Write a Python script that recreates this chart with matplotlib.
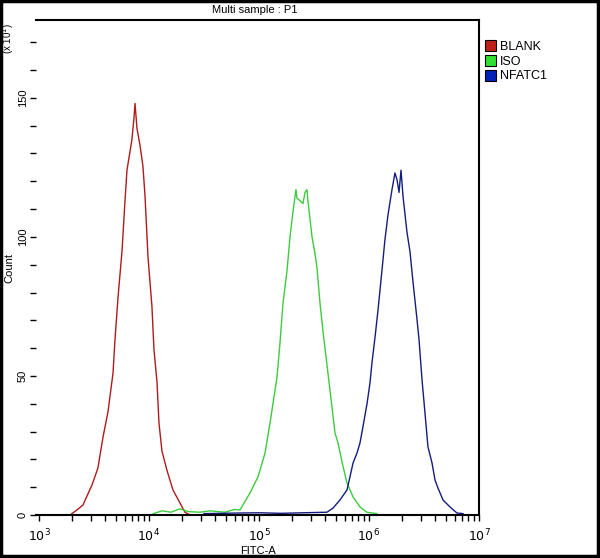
import matplotlib
matplotlib.use("Agg")
import matplotlib.pyplot as plt
from matplotlib.patches import Patch, Rectangle
from matplotlib.ticker import LogLocator, MultipleLocator, NullFormatter, FixedLocator, FixedFormatter

# ---- data (log10 FITC-A, count) ----
blank_log = [3.282, 3.345, 3.40, 3.482, 3.536, 3.582, 3.627, 3.673, 3.691, 3.718, 3.755, 3.782,
             3.80, 3.845, 3.864, 3.873, 3.891, 3.918, 3.945, 3.964, 3.991, 4.027, 4.045, 4.073,
             4.091, 4.118, 4.164, 4.218, 4.282, 4.327, 4.373, 4.49]
blank_cnt = [0, 1.8, 3.6, 10.8, 16.9, 28, 37, 51, 63, 78, 95, 113,
             124, 135, 143, 148, 139, 133, 125.5, 114.7, 92.8, 75, 59.7, 47.8,
             33, 23, 16, 9, 4.3, 1, 0, 0]

iso_log = [4.04, 4.12, 4.2, 4.28, 4.36, 4.464, 4.555, 4.69, 4.78, 4.827, 4.918, 4.991, 5.055,
           5.10, 5.127, 5.164, 5.191,
           5.218, 5.255, 5.282, 5.309, 5.336, 5.345, 5.373, 5.40, 5.418, 5.436, 5.445, 5.482,
           5.509, 5.527, 5.555, 5.582, 5.609, 5.645, 5.673, 5.691, 5.718, 5.755, 5.80, 5.855,
           5.918, 5.98, 6.07]
iso_cnt = [0.5, 1.5, 1, 2.2, 1.2, 1, 1.5, 1, 2, 1.8, 7.9, 13.7, 22.3,
           33, 40, 49.6, 61.9,
           76, 88, 100, 109, 117, 114, 113, 112, 116, 117, 113, 100,
           94, 89, 76, 66, 57, 45, 35.6, 29.5, 26, 19, 11.5, 6.5,
           2.9, 1, 0.5]

nfat_log = [4.50, 4.80, 5.00, 5.20, 5.40, 5.618, 5.673, 5.736, 5.80, 5.827, 5.855, 5.891,
            5.918, 5.945, 5.982, 6.009, 6.027, 6.055, 6.082, 6.118, 6.145, 6.173, 6.209, 6.236,
            6.255, 6.273, 6.291, 6.309, 6.345, 6.373, 6.40, 6.436, 6.455, 6.482, 6.509, 6.536,
            6.573, 6.60, 6.627, 6.673, 6.736, 6.80, 6.855]
nfat_cnt = [0.5, 0.7, 0.8, 0.6, 0.8, 1, 2.5, 5.4, 9, 13.7, 18.7, 22.3,
            25.9, 31.7, 40, 47.5, 54.7, 64, 73.7, 88, 99, 108, 117, 123,
            120.5, 116, 124, 114.7, 101.8, 94.6, 83.8, 70.5, 63, 48.6, 36.7, 24.5,
            18.7, 12.6, 9.7, 5.4, 2.9, 0.7, 0.5]

labels = ["BLANK", "ISO", "NFATC1"]
line_colors = ["#b01a1a", "#3ccc3c", "#141c80"]
legend_colors = ["#c0201a", "#30e030", "#0020b8"]
x_ticks = [1e3, 1e4, 1e5, 1e6, 1e7]
x_ticklabels = [r"$10^{3}$", r"$10^{4}$", r"$10^{5}$", r"$10^{6}$", r"$10^{7}$"]
y_ticks = [0, 50, 100, 150]

plt.rcParams['font.family'] = ['Liberation Sans', 'DejaVu Sans']

W, H = 600, 558
fig = plt.figure(figsize=(6, 5.58), dpi=100)
L, R, B, T = 36, 479, 515, 20
ax = fig.add_axes([L / W, 1 - B / H, (R - L) / W, (B - T) / H])

for lg, cn, c in zip([blank_log, iso_log, nfat_log], [blank_cnt, iso_cnt, nfat_cnt], line_colors):
    ax.plot([10 ** v for v in lg], cn, color=c, lw=1.0)

ax.set_xscale("log")
ax.set_xlim(10 ** 2.973, 1e7)
ax.set_ylim(0, 178)

ax.xaxis.set_major_locator(FixedLocator(x_ticks))
ax.xaxis.set_major_formatter(FixedFormatter(x_ticklabels))
ax.xaxis.set_minor_locator(LogLocator(base=10, subs=range(2, 10), numticks=20))
ax.xaxis.set_minor_formatter(NullFormatter())
ax.yaxis.set_major_locator(FixedLocator(y_ticks))
ax.yaxis.set_minor_locator(MultipleLocator(10))

ax.tick_params(axis="both", which="both", direction="out", length=4, width=1, color="black")
ax.tick_params(axis="x", labelsize=9, pad=5)
ax.tick_params(axis="y", labelsize=8, pad=2)
for lab in ax.get_yticklabels():
    lab.set_rotation(90)
    lab.set_va("center")

ax.spines["left"].set_visible(False)
for s in ["top", "right", "bottom"]:
    ax.spines[s].set_linewidth(1.5)

ax.set_xlabel("FITC-A", fontsize=8, labelpad=0)
ax.xaxis.set_label_coords((258 - L) / (R - L), -(546 - B) / (B - T))
fig.text(9 / W, 1 - 268 / H, "Count", rotation=90, fontsize=8, ha="center", va="center")
fig.text(8 / W, 1 - 38 / H, "(x 10$^{1}$)", rotation=90, fontsize=7, ha="center", va="center")
fig.text(255 / W, 1 - 10 / H, "Multi sample : P1", fontsize=8, ha="center", va="center")

handles = [Patch(facecolor=c, edgecolor="black", linewidth=0.8) for c in legend_colors]
fig.legend(handles, labels, loc="upper left", bbox_to_anchor=(485 / W, 1 - 40 / H),
           frameon=False, fontsize=9, handlelength=0.9, handleheight=1.0,
           handletextpad=0.3, labelspacing=0.15, borderpad=0, borderaxespad=0)

fig.add_artist(Rectangle((0.002, 0.003), 0.995, 0.995, transform=fig.transFigure,
                         fill=False, edgecolor="black", linewidth=2.5))

fig.savefig("out.png", dpi=100)
